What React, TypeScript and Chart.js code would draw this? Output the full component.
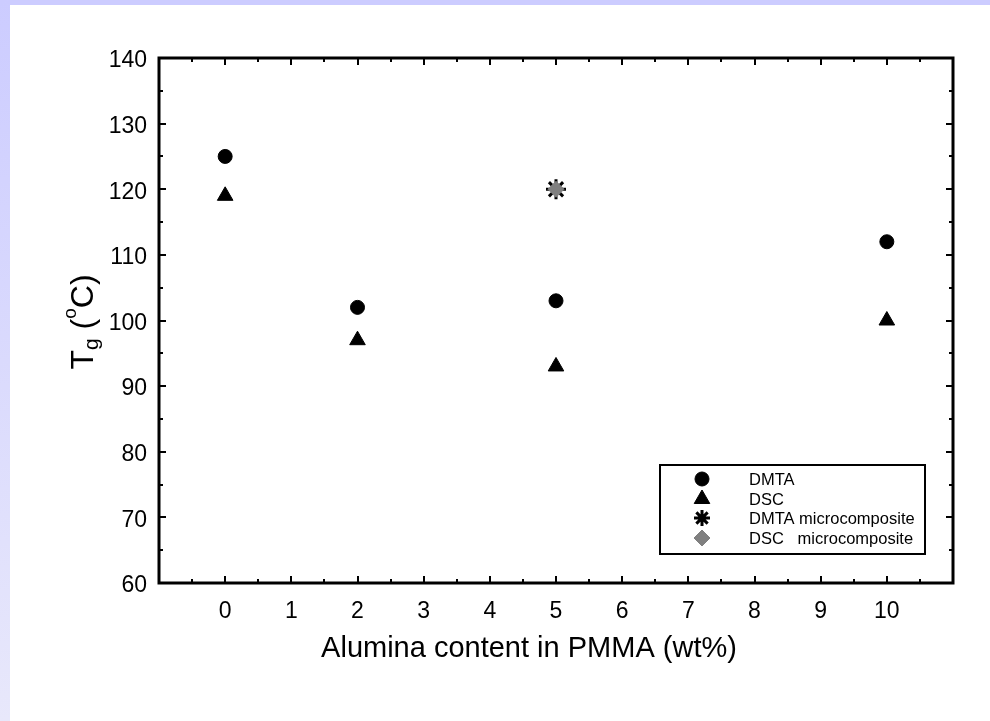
import React, { useEffect, useRef } from "react";
import { Chart, registerables } from "chart.js";
import { drawPoint } from "chart.js/helpers";

Chart.register(...registerables);

// ---- data ----
const xTickValues = [0, 1, 2, 3, 4, 5, 6, 7, 8, 9, 10];
const yTickValues = [60, 70, 80, 90, 100, 110, 120, 130, 140];

const dmtaX = [0, 2, 5, 10];
const dmtaY = [125, 102, 103, 112];
const dscX = [0, 2, 5, 10];
const dscY = [119, 97, 93, 100];
const dmtaMicroX = [5];
const dmtaMicroY = [120];
const dscMicroX = [5];
const dscMicroY = [120];

const seriesLabels = ["DMTA", "DSC", "DMTA microcomposite", "DSC   microcomposite"];
const xTitle = "Alumina content in PMMA (wt%)";

const FONT = "'Liberation Sans', Arial, Helvetica, sans-serif";

const toPoints = (xs: number[], ys: number[]) => xs.map((x, i) => ({ x, y: ys[i] }));

const framePlugin = {
  id: "frame",
  afterDraw(chart: any) {
    const { ctx, chartArea } = chart;
    const { left, right, top, bottom } = chartArea;
    const xs = chart.scales.x;
    const ys = chart.scales.y;
    ctx.save();
    ctx.strokeStyle = "#000";
    // ticks
    ctx.lineWidth = 2;
    for (let v = -0.5; v <= 10.51; v += 0.5) {
      const px = Math.round(xs.getPixelForValue(v));
      const len = Number.isInteger(v) ? 7 : 4;
      ctx.beginPath();
      ctx.moveTo(px, bottom);
      ctx.lineTo(px, bottom - len);
      ctx.moveTo(px, top);
      ctx.lineTo(px, top + len);
      ctx.stroke();
    }
    for (let v = 65; v <= 135; v += 5) {
      const py = Math.round(ys.getPixelForValue(v));
      const len = v % 10 === 0 ? 7 : 4;
      ctx.beginPath();
      ctx.moveTo(left, py);
      ctx.lineTo(left + len, py);
      ctx.moveTo(right, py);
      ctx.lineTo(right - len, py);
      ctx.stroke();
    }
    // frame
    ctx.lineWidth = 3;
    ctx.strokeRect(left, top, right - left, bottom - top);

    // x title
    ctx.fillStyle = "#000";
    ctx.font = `29px ${FONT}`;
    ctx.textAlign = "center";
    ctx.textBaseline = "alphabetic";
    ctx.fillText(xTitle, 529, 657);

    // y title: T_g (°C) rotated
    const big = `32px ${FONT}`;
    const sub = `21px ${FONT}`;
    const sup = `19px ${FONT}`;
    const parts = [
      { t: "T", f: big, dy: 0 },
      { t: "g", f: sub, dy: 5 },
      { t: " (", f: big, dy: 0 },
      { t: "o", f: sup, dy: -17 },
      { t: "C)", f: big, dy: 0 },
    ];
    let total = 0;
    const widths = parts.map((p) => {
      ctx.font = p.f;
      const w = ctx.measureText(p.t).width;
      total += w;
      return w;
    });
    ctx.translate(93, 322);
    ctx.rotate(-Math.PI / 2);
    ctx.textAlign = "left";
    let cx = -total / 2;
    parts.forEach((p, i) => {
      ctx.font = p.f;
      ctx.fillText(p.t, cx, p.dy);
      cx += widths[i];
    });
    ctx.restore();

    // legend
    ctx.save();
    ctx.strokeStyle = "#000";
    ctx.lineWidth = 2;
    ctx.strokeRect(660, 465, 265, 89);
    const rows = [479, 499, 518, 538];
    chart.data.datasets.forEach((ds: any) => {
      const idx = ds.legendIndex;
      const y = rows[idx];
      ctx.fillStyle = ds.backgroundColor;
      ctx.strokeStyle = ds.borderColor;
      ctx.lineWidth = ds.borderWidth;
      drawPoint(ctx, { pointStyle: ds.pointStyle, radius: ds.legendRadius, borderWidth: ds.borderWidth, rotation: 0 }, 702, y);
      ctx.fillStyle = "#000";
      ctx.font = `16.5px ${FONT}`;
      ctx.textAlign = "left";
      ctx.textBaseline = "middle";
      ctx.fillText(ds.label, 749, y + 1);
    });
    ctx.restore();
  },
};

export default function App() {
  const ref = useRef<HTMLCanvasElement | null>(null);
  useEffect(() => {
    if (!ref.current) return;
    const chart = new Chart(ref.current, {
      type: "scatter",
      data: {
        datasets: [
          {
            label: seriesLabels[3],
            data: toPoints(dscMicroX, dscMicroY),
            pointStyle: "rectRot",
            pointRadius: 8,
            backgroundColor: "#808080",
            borderColor: "#808080",
            borderWidth: 1,
            order: 0,
            legendIndex: 3,
            legendRadius: 8,
          } as any,
          {
            label: seriesLabels[2],
            data: toPoints(dmtaMicroX, dmtaMicroY),
            pointStyle: "star",
            pointRadius: 10,
            backgroundColor: "#000",
            borderColor: "#000",
            borderWidth: 3,
            order: 1,
            legendIndex: 2,
            legendRadius: 8,
          } as any,
          {
            label: seriesLabels[0],
            data: toPoints(dmtaX, dmtaY),
            pointStyle: "circle",
            pointRadius: 7,
            backgroundColor: "#000",
            borderColor: "#000",
            borderWidth: 1,
            order: 2,
            legendIndex: 0,
            legendRadius: 7,
          } as any,
          {
            label: seriesLabels[1],
            data: toPoints(dscX, dscY),
            pointStyle: "triangle",
            pointRadius: 9,
            backgroundColor: "#000",
            borderColor: "#000",
            borderWidth: 1,
            order: 3,
            legendIndex: 1,
            legendRadius: 9,
          } as any,
        ],
      },
      options: {
        animation: false,
        responsive: false,
        devicePixelRatio: 1,
        layout: { padding: { left: 0, top: 58, right: 37, bottom: 0 } },
        plugins: { legend: { display: false }, tooltip: { enabled: false } },
        scales: {
          x: {
            type: "linear",
            min: -1,
            max: 11,
            grid: { display: false, drawTicks: false },
            border: { display: false },
            afterBuildTicks: (s: any) => {
              s.ticks = xTickValues.map((v) => ({ value: v }));
            },
            afterFit: (s: any) => {
              s.height = 138;
            },
            ticks: {
              autoSkip: false,
              maxRotation: 0,
              padding: 15,
              color: "#000",
              font: { family: FONT, size: 23 },
            },
          },
          y: {
            type: "linear",
            min: 60,
            max: 140,
            grid: { display: false, drawTicks: false },
            border: { display: false },
            afterBuildTicks: (s: any) => {
              s.ticks = yTickValues.map((v) => ({ value: v }));
            },
            afterFit: (s: any) => {
              s.width = 159;
            },
            ticks: {
              autoSkip: false,
              padding: 12,
              labelOffset: 3,
              color: "#000",
              font: { family: FONT, size: 23 },
            },
          },
        },
      },
      plugins: [framePlugin],
    });
    return () => chart.destroy();
  }, []);

  return (
    <div style={{ position: "fixed", left: 0, top: 0, width: 990, height: 721, background: "#fff", overflow: "hidden" }}>
      <div style={{ position: "absolute", left: 0, top: 0, width: 990, height: 5, background: "#ccccff" }} />
      <div
        style={{
          position: "absolute",
          left: 0,
          top: 0,
          width: 10,
          height: 721,
          background: "linear-gradient(to bottom, #ccccff, #e8e8fb)",
        }}
      />
      <canvas ref={ref} width={990} height={721} style={{ position: "absolute", left: 0, top: 0, width: 990, height: 721 }} />
    </div>
  );
}
